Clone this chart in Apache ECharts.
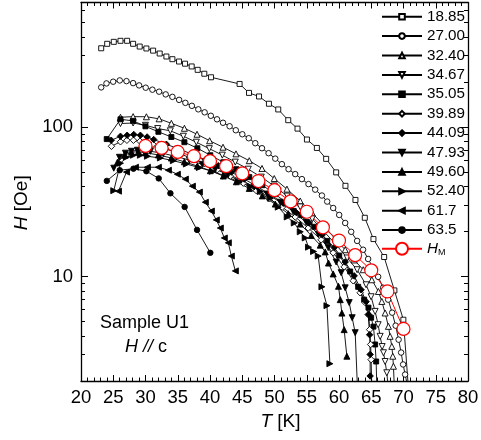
<!DOCTYPE html>
<html>
<head>
<meta charset="utf-8">
<script src="https://cdn.jsdelivr.net/npm/echarts@6/dist/echarts.min.js"></script>
<style>html,body{margin:0;padding:0;background:#fff;}#c{width:481px;height:440px;}</style>
</head>
<body>
<div id="c"></div>
<script>
// ---- data: [T (K), H (Oe)] ----
const s1885 = [[23.13,336],[24.06,360],[25.08,371],[26.12,377],[27.15,377],[28.08,360],[29.1,345],[30.14,335],[31.18,324],[32.2,310],[33.24,296],[34.17,284],[35.2,274],[36.13,265],[37.16,254],[38.09,241],[39.12,227],[40.16,215],[44.59,194],[46.05,169],[47.6,160],[49.14,143],[50.58,131],[52.13,111],[53.57,97.5],[55.03,82.4],[56.57,72.4],[58.01,61.2],[59.56,49.7],[61.0,40.4],[62.55,32.5],[64.0,24.7],[65.34,17.8],[67.0,13.5],[68.59,8.07],[69.98,5.14],[70.7,1.95]];
const s2700 = [[23.13,184],[23.95,195.6],[24.99,200.8],[26.01,204.8],[27.05,202.6],[28.08,196.5],[29.01,189.7],[30.03,183.1],[31.07,177.6],[32.11,172.2],[33.13,165.2],[34.17,159],[35.21,151.8],[36.18,145],[37.19,138.5],[38.19,131.2],[39.17,125.3],[40.13,118.8],[41.09,112.5],[42.02,106.7],[43.04,101.1],[44.0,95.1],[45.01,89.4],[46.01,84.1],[47.02,77.9],[48.06,72.1],[49.08,66.8],[50.12,61.4],[51.15,56.4],[52.18,52.2],[53.21,48.4],[54.25,44.8],[55.27,41.5],[56.31,38.1],[57.35,34.8],[58.17,31.7],[59.1,28.7],[60.03,25.8],[60.96,22.8],[61.89,19.9],[62.81,17.3],[63.74,15.1],[64.52,13.1],[65.29,11.4],[66.07,9.95],[66.84,8.41],[67.62,7.0],[68.24,5.73],[68.78,4.69],[69.24,3.78],[69.63,3.10],[69.94,2.58],[70.25,2.21],[70.48,1.99]];
const s3240 = [[26.12,116.1],[28.08,117.3],[30.14,117],[32.11,113.4],[34.01,105.8],[36.03,98],[37.99,89.4],[39.94,80.9],[42.02,73.2],[44.03,66.1],[46.09,59.5],[48.06,52.8],[49.96,45.2],[51.93,38.4],[53.99,32.0],[55.85,26.6],[57.71,21.8],[59.41,17.8],[60.96,15.1],[62.35,12.9],[63.75,11.1],[65.09,9.51],[66.11,7.94],[66.64,6.81],[67.15,5.70],[67.66,4.64],[67.92,3.98],[68.19,3.41],[68.34,2.93],[68.44,2.51],[68.54,1.99]];
const s3467 = [[26.12,105.4],[28.08,106.3],[29.99,102.6],[31.89,97.6],[33.85,94.3],[35.87,86.7],[37.88,79.1],[39.9,71.6],[41.91,64.8],[43.92,58.2],[45.94,52.2],[47.95,46.2],[49.96,40.3],[51.98,34.5],[53.99,29.2],[55.85,24.3],[57.71,19.9],[59.56,16.3],[61.26,13.3],[62.81,11.1],[64.2,8.80],[64.98,7.32],[65.6,5.84],[66.07,4.76],[66.38,3.98],[66.69,3.40],[66.89,3.09],[67.15,2.70],[67.41,2.27],[67.54,1.99]];
const s3505 = [[23.99,83.0],[26.12,112.5],[28.08,109.9],[29.99,101.0],[32.0,92.8],[34.01,85.7],[36.03,79.1],[38.04,72.1],[40.05,64.7],[42.07,58.1],[44.08,52.2],[46.09,46.2],[48.11,40.8],[50.12,35.5],[52.13,30.5],[54.15,25.7],[56.16,21.5],[58.17,17.3],[60.03,13.8],[61.73,10.8],[62.97,8.53],[63.9,7.0],[64.57,6.19],[64.98,5.30],[65.34,4.62],[65.6,3.51],[65.76,2.70],[65.84,1.99]];
const s3989 = [[24.72,74.3],[26.12,79.6],[27.12,81.5],[28.13,81.5],[29.14,80.3],[30.14,77.8],[31.15,76.6],[33.09,71.5],[35.1,66.8],[37.11,61.8],[39.12,56.8],[41.14,51.8],[43.15,46.9],[45.16,42.1],[47.18,37.5],[49.19,33.1],[51.2,29.1],[53.22,25.0],[55.23,21.1],[57.24,17.6],[59.1,14.4],[60.81,11.6],[62.2,9.36],[63.28,7.78],[64.06,6.69],[64.52,5.56],[64.75,4.41],[64.91,3.51],[64.98,2.78],[65.06,1.99]];
const s4409 = [[24.68,81.5],[26.12,86.6],[27.15,88.0],[28.18,89.0],[29.21,88.0],[30.25,85.7],[31.27,82.4],[33.24,76.6],[35.25,71.0],[37.27,65.7],[39.28,60.4],[41.29,55.1],[43.31,49.9],[45.32,44.8],[47.33,39.9],[49.35,35.3],[51.36,30.9],[53.37,26.8],[55.39,22.8],[57.4,19.0],[59.26,15.6],[60.96,12.5],[62.35,10.1],[63.43,8.15],[64.2,6.79],[64.6,5.56],[64.75,4.08],[64.83,3.01],[64.83,2.16]];
const s4793 = [[25.08,53.0],[25.96,62.7],[26.89,66.8],[27.82,68.8],[28.75,69.9],[29.68,69.9],[30.76,68.8],[32.77,66.5],[34.79,63.5],[36.8,60.0],[38.81,56.2],[40.83,52.3],[42.84,48.2],[44.85,44.0],[46.87,39.8],[48.88,35.6],[50.89,31.4],[52.91,27.2],[54.92,23.0],[56.78,19.2],[58.33,15.6],[59.56,12.5],[60.34,10.6],[60.96,8.40],[61.58,6.69],[62.04,5.30],[62.51,4.21],[62.82,1.99]];
const s4960 = [[25.65,58.1],[26.74,64.7],[27.82,67.8],[28.9,68.3],[29.99,67.3],[32.0,65.0],[34.01,62.0],[36.03,58.5],[38.04,54.8],[40.05,51.0],[42.07,47.0],[44.08,43.0],[46.09,38.8],[48.11,34.6],[50.12,30.5],[52.13,26.3],[53.99,22.4],[55.7,18.8],[57.09,16.2],[57.86,14.6],[58.37,12.3],[59.1,10.4],[59.92,8.6],[60.19,7.0],[60.45,5.69],[60.8,4.41],[61.22,2.93]];
const s5240 = [[25.08,37.5],[26.12,57.2],[27.05,62.7],[28.13,64.7],[29.21,64.7],[30.3,63.7],[32.31,62.0],[34.32,59.5],[36.34,56.5],[38.35,53.5],[40.36,50.5],[42.38,47.0],[44.39,43.0],[46.25,40.0],[47.8,37.0],[49.35,33.4],[50.58,29.1],[51.97,25.0],[53.06,22.8],[53.99,19.9],[54.76,18.1],[55.27,15.7],[56.05,14.7],[56.78,13.7],[57.35,8.53],[58.13,6.38],[58.59,2.61]];
const s617 = [[25.81,37.2],[27.05,49.9],[28.44,53.8],[30.3,53.8],[32.0,53.8],[33.55,51.4],[34.94,48.3],[36.18,44.8],[37.27,40.2],[38.35,36.7],[39.28,31.4],[40.21,27.4],[40.98,23.9],[41.6,21.1],[42.22,18.1],[42.84,16.8],[43.31,13.7],[43.93,10.9]];
const s635 = [[24.0,43.6],[26.01,51.4],[28.13,52.6],[30.14,50.6],[32.05,45.3],[33.86,36.0],[36.07,29.2],[37.99,20.5],[40.05,14.4]];
const sHM = [[30,74.7],[32.5,72.4],[35,68.1],[37.5,63.8],[40,59.1],[42.5,54.7],[45,48.9],[47.5,43.5],[50,37.8],[52.5,31.8],[55,27.1],[57.5,21.3],[60,17.4],[62.5,13.9],[65,11.0],[67.5,7.94],[70,4.46]];

const seriesNames = ['18.85','27.00','32.40','34.67','35.05','39.89','44.09','47.93','49.60','52.40','61.7','63.5'];
const yMinorTickValues = [2,3,4,5,6,7,8,9,20,30,40,50,60,70,80,90,200,300,400,500,600];

const FONT = 'Liberation Sans, Arial, sans-serif';
const BLACK = '#000';

function mk(name, data, symbol, fill, rotate, size) {
  return {
    name: name, type: 'line', data: data, xAxisIndex: 0, yAxisIndex: 0,
    symbol: symbol, symbolSize: size, symbolRotate: rotate,
    lineStyle: { color: BLACK, width: 0.9 },
    itemStyle: { color: fill, borderColor: BLACK, borderWidth: 0.9 },
    emphasis: { disabled: true }, silent: true, clip: true
  };
}

const series = [
  mk('18.85', s1885, 'rect', '#fff', 0, 5),
  mk('27.00', s2700, 'circle', '#fff', 0, 5.5),
  mk('32.40', s3240, 'triangle', '#fff', 0, 6),
  mk('34.67', s3467, 'triangle', '#fff', 180, 6),
  mk('35.05', s3505, 'rect', BLACK, 0, 5),
  mk('39.89', s3989, 'diamond', '#fff', 0, 6.5),
  mk('44.09', s4409, 'diamond', BLACK, 0, 6.5),
  mk('47.93', s4793, 'triangle', BLACK, 180, 6),
  mk('49.60', s4960, 'triangle', BLACK, 0, 6),
  mk('52.40', s5240, 'triangle', BLACK, -90, 6),
  mk('61.7', s617, 'triangle', BLACK, 90, 6),
  mk('63.5', s635, 'circle', BLACK, 0, 5.5),
  {
    name: 'H_M', type: 'line', data: sHM, xAxisIndex: 0, yAxisIndex: 0,
    symbol: 'circle', symbolSize: 13,
    lineStyle: { color: '#ff0000', width: 1 },
    itemStyle: { color: '#fff', borderColor: '#ff0000', borderWidth: 1.2 },
    emphasis: { disabled: true }, silent: true, clip: true, z: 3
  }
];

const axLine = { show: true, lineStyle: { color: BLACK, width: 1.3 } };
const lg2 = Math.log10;

const xCommon = {
  type: 'value', min: 20, max: 80, interval: 5,
  axisLine: axLine,
  axisTick: { show: true, inside: true, length: 6, lineStyle: { color: BLACK, width: 1 } },
  minorTick: { show: true, splitNumber: 5, length: 3.5, lineStyle: { color: BLACK, width: 1 } },
  splitLine: { show: false }, minorSplitLine: { show: false }
};

const option = {
  animation: false,
  backgroundColor: '#fff',
  grid: { left: 81, right: 13, top: 2.5, bottom: 59, containLabel: false, outerBoundsMode: 'none' },
  xAxis: [
    Object.assign({}, xCommon, {
      position: 'bottom',
      axisLabel: { color: BLACK, fontSize: 18.5, fontFamily: FONT, margin: 7 },
      name: '{i|T} [K]', nameLocation: 'middle', nameGap: 22,
      nameTextStyle: { color: BLACK, fontSize: 19, fontFamily: FONT, padding: [0, 0, 0, 12],
        rich: { i: { fontStyle: 'italic', fontSize: 19, fontFamily: FONT, color: BLACK } } }
    }),
    Object.assign({}, xCommon, { position: 'top', axisLabel: { show: false } })
  ],
  yAxis: [
    {
      type: 'log', logBase: 10, min: 2, max: 680, position: 'left',
      axisLine: axLine,
      axisTick: { show: true, inside: true, length: 7, lineStyle: { color: BLACK, width: 1 } },
      splitLine: { show: false },
      axisLabel: { color: BLACK, fontSize: 18.5, fontFamily: FONT, margin: 8,
        formatter: function (v) { const e = Math.log10(v); return Math.abs(e - Math.round(e)) < 1e-6 ? String(Math.round(v)) : ''; } },
      name: '{i|H} [Oe]', nameLocation: 'middle', nameGap: 46,
      nameTextStyle: { color: BLACK, fontSize: 19, fontFamily: FONT, padding: [0, 22, 0, 0],
        rich: { i: { fontStyle: 'italic', fontSize: 19, fontFamily: FONT, color: BLACK } } }
    },
    {
      type: 'value', min: lg2(2), max: lg2(680), position: 'left',
      axisLine: { show: false }, axisLabel: { show: false }, splitLine: { show: false },
      axisTick: { show: true, inside: true, length: 4, lineStyle: { color: BLACK, width: 1 },
        customValues: yMinorTickValues.map(lg2) }
    },
    {
      type: 'log', logBase: 10, min: 2, max: 680, position: 'right',
      axisLine: axLine, axisLabel: { show: false }, splitLine: { show: false },
      axisTick: { show: true, inside: true, length: 7, lineStyle: { color: BLACK, width: 1 } }
    },
    {
      type: 'value', min: lg2(2), max: lg2(680), position: 'right',
      axisLine: { show: false }, axisLabel: { show: false }, splitLine: { show: false },
      axisTick: { show: true, inside: true, length: 4, lineStyle: { color: BLACK, width: 1 },
        customValues: yMinorTickValues.map(lg2) }
    }
  ],
  legend: [
    {
      orient: 'vertical', left: 381, top: 9.2, padding: 0,
      itemWidth: 40, itemHeight: 7, itemGap: 4.4,
      data: seriesNames, selectedMode: false, symbolRotate: 'inherit',
      textStyle: { color: BLACK, fontSize: 15.2, fontFamily: FONT, lineHeight: 15 }
    },
    {
      orient: 'vertical', left: 381, top: 240.8, padding: 0,
      itemWidth: 40, itemHeight: 15,
      data: ['H_M'], selectedMode: false,
      formatter: function () { return '{i|H}{s|M}'; },
      textStyle: { color: BLACK, fontSize: 15.2, fontFamily: FONT, lineHeight: 15,
        rich: {
          i: { fontStyle: 'italic', fontSize: 15.2, fontFamily: FONT, color: BLACK, lineHeight: 15 },
          s: { fontSize: 9, fontFamily: FONT, color: BLACK, lineHeight: 9, padding: [7, 0, 0, 0] }
        } }
    }
  ],
  graphic: [
    { type: 'text', x: 144.5, y: 322.7, silent: true,
      style: { text: 'Sample U1', fill: BLACK, font: '18px ' + FONT, textAlign: 'center', textVerticalAlign: 'middle' } },
    { type: 'text', x: 146, y: 346.7, silent: true,
      style: { text: '{i|H //} c', fill: BLACK, font: '18px ' + FONT, textAlign: 'center', textVerticalAlign: 'middle',
        rich: { i: { fontStyle: 'italic', fontSize: 18, fontFamily: FONT, fill: BLACK } } } }
  ],
  series: series
};

const chart = echarts.init(document.getElementById('c'), null, { renderer: 'canvas' });
chart.setOption(option);
</script>
</body>
</html>
